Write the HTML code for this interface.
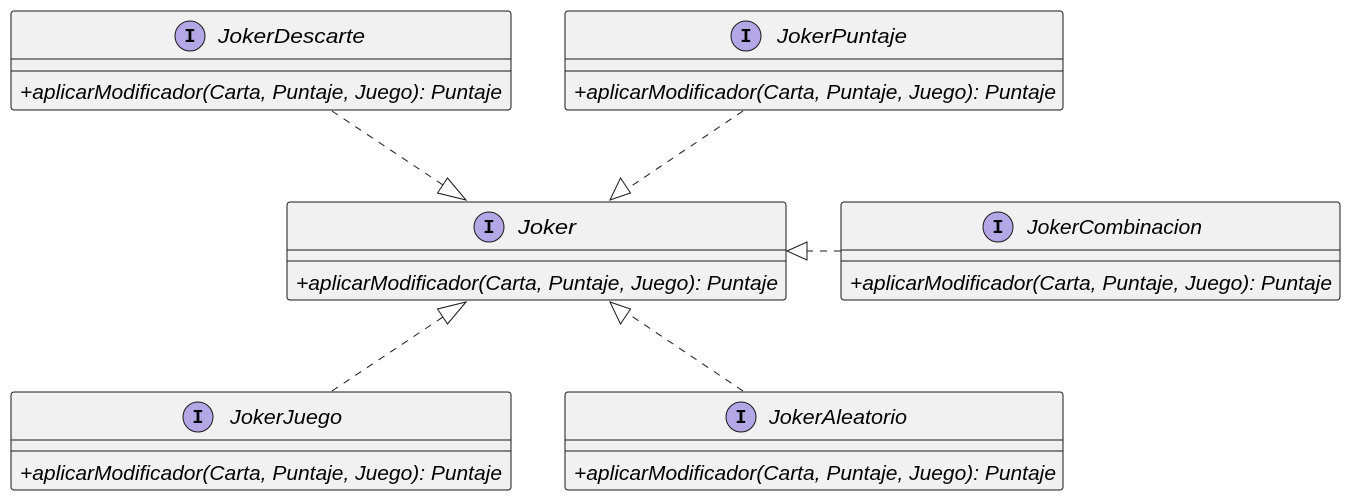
<!DOCTYPE html>
<html><head><meta charset="utf-8"><style>
body{margin:0;background:#fff;}
svg{display:block;font-family:"Liberation Sans",sans-serif;}
.b{fill:#F1F1F1;stroke:#181818;stroke-width:1;}
.l{stroke:#181818;stroke-width:1;}
.c{fill:#B4A7E5;stroke:#181818;stroke-width:1;}
.t{font-size:20px;font-style:italic;fill:#000;}
.i{font-size:19px;font-weight:bold;font-family:"Liberation Mono",monospace;fill:#000;}
.d{stroke:#181818;stroke-width:1;stroke-dasharray:7,7;fill:none;}
.a{fill:#fff;stroke:#181818;stroke-width:1;}
</style></head><body>
<svg width="1349" height="500" viewBox="0 0 1349 500">
<line class="d" x1="332" y1="111" x2="449" y2="189"/>
<polygon class="a" points="466,200 437.5,193 447.5,178"/>
<line class="d" x1="743" y1="111" x2="627" y2="189"/>
<polygon class="a" points="610,200 620.5,178 630.5,193"/>
<line class="d" x1="841" y1="251" x2="807" y2="251"/>
<polygon class="a" points="787,251 807,242 807,260"/>
<line class="d" x1="332" y1="391" x2="449" y2="313"/>
<polygon class="a" points="466,302 447.5,324 437.5,309"/>
<line class="d" x1="743" y1="391" x2="627" y2="313"/>
<polygon class="a" points="610,302 630.5,309 620.5,324"/>

<rect class="b" x="11" y="11" width="500" height="99" rx="3"/>
<line class="l" x1="11" y1="59" x2="511" y2="59"/><line class="l" x1="11" y1="71" x2="511" y2="71"/>
<circle class="c" cx="190" cy="36" r="15"/><text class="i" x="190" y="42" text-anchor="middle">I</text>
<text class="t" x="218" y="43" textLength="147" lengthAdjust="spacingAndGlyphs">JokerDescarte</text>
<text class="t" x="20" y="99" textLength="482" lengthAdjust="spacingAndGlyphs">+aplicarModificador(Carta, Puntaje, Juego): Puntaje</text>

<rect class="b" x="565" y="11" width="498" height="99" rx="3"/>
<line class="l" x1="565" y1="59" x2="1063" y2="59"/><line class="l" x1="565" y1="71" x2="1063" y2="71"/>
<circle class="c" cx="746" cy="36" r="15"/><text class="i" x="746" y="42" text-anchor="middle">I</text>
<text class="t" x="777" y="43" textLength="130" lengthAdjust="spacingAndGlyphs">JokerPuntaje</text>
<text class="t" x="574" y="99" textLength="482" lengthAdjust="spacingAndGlyphs">+aplicarModificador(Carta, Puntaje, Juego): Puntaje</text>

<rect class="b" x="287" y="202" width="499" height="98" rx="3"/>
<line class="l" x1="287" y1="250" x2="786" y2="250"/><line class="l" x1="287" y1="261" x2="786" y2="261"/>
<circle class="c" cx="489" cy="227" r="15"/><text class="i" x="489" y="233" text-anchor="middle">I</text>
<text class="t" x="518" y="234" textLength="58" lengthAdjust="spacingAndGlyphs">Joker</text>
<text class="t" x="296" y="290" textLength="482" lengthAdjust="spacingAndGlyphs">+aplicarModificador(Carta, Puntaje, Juego): Puntaje</text>

<rect class="b" x="841" y="202" width="499" height="98" rx="3"/>
<line class="l" x1="841" y1="250" x2="1340" y2="250"/><line class="l" x1="841" y1="261" x2="1340" y2="261"/>
<circle class="c" cx="998" cy="227" r="15"/><text class="i" x="998" y="233" text-anchor="middle">I</text>
<text class="t" x="1027" y="234" textLength="175" lengthAdjust="spacingAndGlyphs">JokerCombinacion</text>
<text class="t" x="850" y="290" textLength="482" lengthAdjust="spacingAndGlyphs">+aplicarModificador(Carta, Puntaje, Juego): Puntaje</text>

<rect class="b" x="11" y="392" width="500" height="98" rx="3"/>
<line class="l" x1="11" y1="440" x2="511" y2="440"/><line class="l" x1="11" y1="451" x2="511" y2="451"/>
<circle class="c" cx="198" cy="417" r="15"/><text class="i" x="198" y="423" text-anchor="middle">I</text>
<text class="t" x="230" y="424" textLength="112" lengthAdjust="spacingAndGlyphs">JokerJuego</text>
<text class="t" x="20" y="480" textLength="482" lengthAdjust="spacingAndGlyphs">+aplicarModificador(Carta, Puntaje, Juego): Puntaje</text>

<rect class="b" x="565" y="392" width="498" height="98" rx="3"/>
<line class="l" x1="565" y1="440" x2="1063" y2="440"/><line class="l" x1="565" y1="451" x2="1063" y2="451"/>
<circle class="c" cx="741" cy="417" r="15"/><text class="i" x="741" y="423" text-anchor="middle">I</text>
<text class="t" x="769" y="424" textLength="138" lengthAdjust="spacingAndGlyphs">JokerAleatorio</text>
<text class="t" x="574" y="480" textLength="482" lengthAdjust="spacingAndGlyphs">+aplicarModificador(Carta, Puntaje, Juego): Puntaje</text>
</svg>
</body></html>
